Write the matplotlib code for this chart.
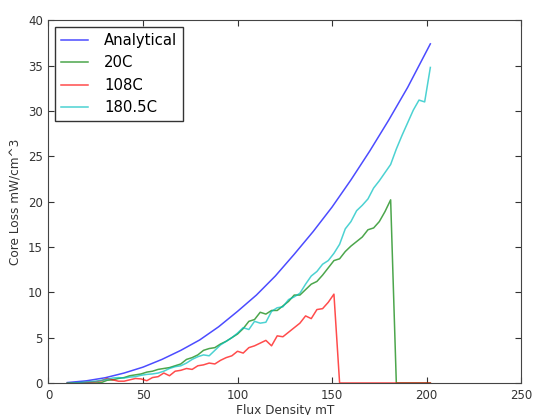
import matplotlib
matplotlib.use("Agg")
import matplotlib.pyplot as plt

# analytical core loss curve
flux_calc = [10, 20, 30, 40, 50, 60, 70, 80, 90, 100, 110, 120, 130, 140,
             150, 160, 170, 180, 190, 202]
loss_calc = [0.05, 0.24, 0.58, 1.1, 1.75, 2.6, 3.6, 4.75, 6.2, 7.9, 9.7, 11.8,
             14.2, 16.7, 19.4, 22.4, 25.6, 29.0, 32.6, 37.4]

# measured flux density points (mT)
flux = [10, 13, 16, 19, 22, 25, 28, 31, 34, 37, 40, 43, 46, 49, 52, 55, 58,
        61, 64, 67, 70, 73, 76, 79, 82, 85, 88, 91, 94, 97, 100, 103, 106,
        109, 112, 115, 118, 121, 124, 127, 130, 133, 136, 139, 142, 145, 148,
        151, 154, 157, 160, 163, 166, 169, 172, 175, 178, 181, 184, 187, 190,
        193, 196, 199, 202]

loss_20 = [0.0, 0.0, 0.0, 0.0, 0.0, 0.0, 0.05, 0.3, 0.35, 0.5, 0.6, 0.8, 0.9,
           1.0, 1.2, 1.3, 1.5, 1.6, 1.7, 1.9, 2.1, 2.6, 2.8, 3.1, 3.6, 3.8,
           3.9, 4.3, 4.6, 5.0, 5.4, 6.0, 6.8, 7.0, 7.8, 7.6, 8.0, 8.0, 8.5,
           9.0, 9.7, 9.7, 10.3, 10.9, 11.2, 11.9, 12.7, 13.5, 13.7, 14.5, 15.1,
           15.6, 16.1, 16.9, 17.1, 17.8, 18.9, 20.2, 0.0, 0.0, 0.0, 0.0, 0.0,
           0.0, 0.0]

loss_108 = [0.0, 0.0, 0.0, 0.05, 0.1, 0.15, 0.25, 0.5, 0.35, 0.2, 0.2, 0.35,
            0.5, 0.45, 0.25, 0.6, 0.7, 1.1, 0.8, 1.3, 1.4, 1.6, 1.5, 1.9, 2.0,
            2.2, 2.1, 2.5, 2.8, 3.0, 3.5, 3.3, 3.9, 4.1, 4.4, 4.7, 4.1, 5.2,
            5.1, 5.6, 6.1, 6.6, 7.4, 7.1, 8.1, 8.2, 8.9, 9.8, 0.0, 0.0, 0.0,
            0.0, 0.0, 0.0, 0.0, 0.0, 0.0, 0.0, 0.0, 0.0, 0.0, 0.0, 0.0, 0.0,
            0.0]

loss_180 = [0.0, 0.02, 0.05, 0.1, 0.15, 0.2, 0.3, 0.4, 0.55, 0.6, 0.55, 0.65,
            0.7, 0.85, 0.95, 1.0, 1.1, 1.3, 1.6, 1.8, 1.9, 2.2, 2.6, 2.9, 3.1,
            3.0, 3.6, 4.2, 4.6, 5.0, 5.5, 6.1, 5.9, 6.8, 6.6, 6.7, 7.9, 8.3,
            8.4, 9.2, 9.5, 9.9, 10.9, 11.8, 12.3, 13.1, 13.5, 14.3, 15.3, 17.0,
            17.8, 19.0, 19.6, 20.3, 21.5, 22.3, 23.2, 24.1, 25.8, 27.3, 28.7,
            30.1, 31.2, 31.0, 34.8]

fig = plt.figure(figsize=(5.34, 4.15), dpi=100)
ax = fig.add_axes([0.0908, 0.0771, 0.885, 0.874])

ax.plot(flux_calc, loss_calc, color='b', alpha=0.7, lw=1.1, label='Analytical')
ax.plot(flux, loss_20, color='g', alpha=0.7, lw=1.1, label='20C')
ax.plot(flux, loss_108, color='r', alpha=0.7, lw=1.1, label='108C')
ax.plot(flux, loss_180, color='c', alpha=0.7, lw=1.1, label='180.5C')

ax.set_xlim(0, 250)
ax.set_ylim(0, 40)
ax.set_xticks([0, 50, 100, 150, 200, 250])
ax.set_yticks(range(0, 41, 5))
ax.tick_params(direction='in', top=True, right=True, length=4, labelsize=8.5,
               colors='#333333', pad=4)
for s in ax.spines.values():
    s.set_color('#444444')

ax.set_xlabel('Flux Density mT', fontsize=8.7, color='#333333', labelpad=2)
ax.set_ylabel('Core Loss mW/cm^3', fontsize=8.7, color='#333333')

leg = ax.legend(loc='upper left', fontsize=10.7, fancybox=False, framealpha=1,
                handlelength=1.8, handletextpad=1.1, labelspacing=0.5,
                borderaxespad=0.45)
leg.get_frame().set_edgecolor('#333333')
leg.get_frame().set_linewidth(1.0)

plt.savefig('out.png', dpi=100)
